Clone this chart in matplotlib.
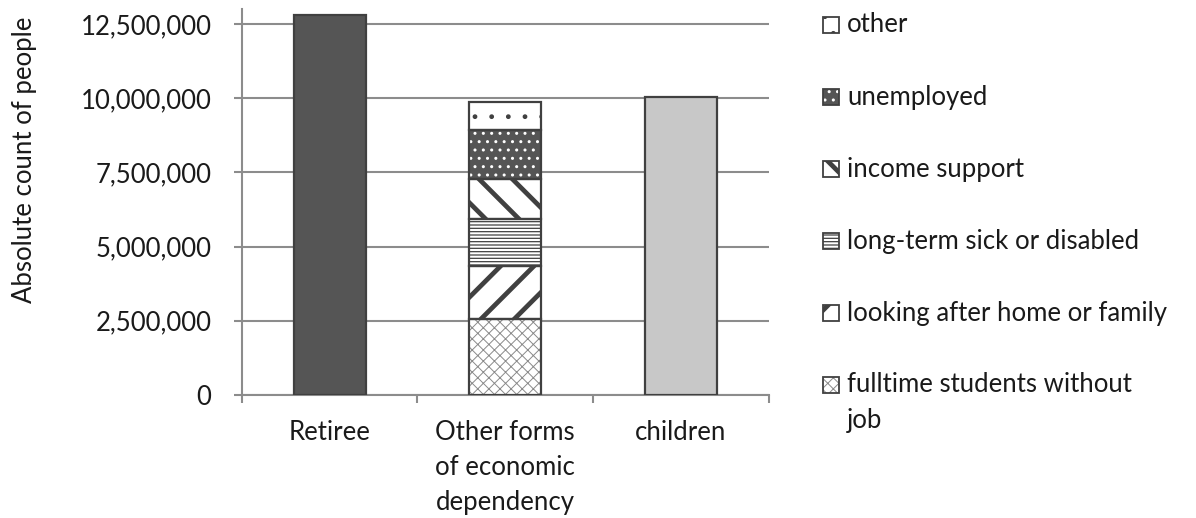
import matplotlib
matplotlib.use("Agg")
import matplotlib.pyplot as plt
from matplotlib.patches import Rectangle
from matplotlib.ticker import FuncFormatter

# dependency groups and the breakdown of the middle column
categories = ["Retiree", "Other forms\nof economic\ndependency", "children"]
retiree = 12_800_000
children = 10_030_000

other_labels = ["fulltime students without\njob", "looking after home or family",
                "long-term sick or disabled", "income support", "unemployed", "other"]
other_values = [2_550_000, 1_800_000, 1_590_000, 1_350_000, 1_650_000, 930_000]

y_ticks = [0, 2_500_000, 5_000_000, 7_500_000, 10_000_000, 12_500_000]

EDGE = "#404040"
GRID = "#8c8c8c"
TEXT = "#1a1a1a"

# fill, hatch, hatch colour, hatch width for each stacked segment
seg_styles = [
    ("white", "xxx", "#8a8a8a", 0.7),
    ("white", "/", EDGE, 3.4),
    ("white", "-----", EDGE, 0.9),
    ("white", "\\", EDGE, 3.4),
    ("#555555", "..", "white", 1.0),
    ("white", ".", EDGE, 1.0),
]

plt.rcParams["font.family"] = ["Lato", "DejaVu Sans"]
plt.rcParams["font.size"] = 18.5

W, H = 1196, 518


def hatched_patch(p, hcolor, hlw):
    p.set_edgecolor(hcolor)
    if hasattr(p, "set_hatch_linewidth"):
        p.set_hatch_linewidth(hlw)


def main():
    fig = plt.figure(figsize=(W / 100, H / 100), dpi=100)
    ax = fig.add_axes([0.2023, 0.2375, 0.4403, 0.7451])
    w = 0.41

    ax.bar(0, retiree, w, color="#555555", edgecolor=EDGE, linewidth=1.6, zorder=3)
    ax.bar(2, children, w, color="#c8c8c8", edgecolor=EDGE, linewidth=1.6, zorder=3)

    # stacked middle column: hatched fill first, dark outline on top
    bottom = 0
    for val, (fill, hatch, hc, hlw) in zip(other_values, seg_styles):
        b = ax.bar(1, val, w, bottom=bottom, color=fill, hatch=hatch,
                   linewidth=0, zorder=3)[0]
        hatched_patch(b, hc, hlw)
        ax.bar(1, val, w, bottom=bottom, facecolor="none", edgecolor=EDGE,
               linewidth=1.6, zorder=4)
        bottom += val

    ax.set_xlim(-0.5, 2.5)
    ax.set_ylim(0, 13_000_000)
    ax.set_yticks(y_ticks)
    ax.yaxis.set_major_formatter(FuncFormatter(lambda v, p: f"{int(v):,}"))
    ax.set_xticks(range(3))
    ax.set_xticklabels(categories, linespacing=1.5, va="top")
    ax.set_xticks([-0.5, 0.5, 1.5, 2.5], minor=True)
    ax.tick_params(axis="x", which="major", length=0, pad=18, colors=TEXT)
    ax.tick_params(axis="x", which="minor", length=6, width=1.5, color=GRID, direction="out")
    ax.tick_params(axis="y", length=6, width=1.5, pad=16, labelcolor=TEXT, color=GRID)

    ax.grid(axis="y", color=GRID, linewidth=1.5, zorder=0)
    ax.set_axisbelow(True)
    for s in ["top", "right"]:
        ax.spines[s].set_visible(False)
    for s in ["left", "bottom"]:
        ax.spines[s].set_color(GRID)
        ax.spines[s].set_linewidth(1.5)

    ax.set_ylabel("Absolute count of people", color=TEXT, va="center")
    ax.yaxis.set_label_coords(-0.412, 0.609)

    # legend, top entry first, drawn in figure pixels
    line_px = 35
    for i, (lab, (fill, hatch, hc, hlw)) in enumerate(zip(other_labels[::-1], seg_styles[::-1])):
        yc = 25 + 72 * i
        sq = Rectangle((823 / W, 1 - (yc + 8) / H), 16 / W, 16 / H, transform=fig.transFigure,
                       facecolor=fill, hatch=hatch, linewidth=0)
        hatched_patch(sq, hc, hlw)
        fig.patches.append(sq)
        fig.patches.append(Rectangle((823 / W, 1 - (yc + 8) / H), 16 / W, 16 / H,
                                     transform=fig.transFigure, facecolor="none",
                                     edgecolor=EDGE, linewidth=1.3))
        n = lab.count("\n")
        fig.text(847 / W, 1 - (yc + n * line_px / 2) / H, lab, va="center", ha="left",
                 color=TEXT, linespacing=1.55)

    fig.savefig("out.png", dpi=100)


if __name__ == "__main__":
    main()
